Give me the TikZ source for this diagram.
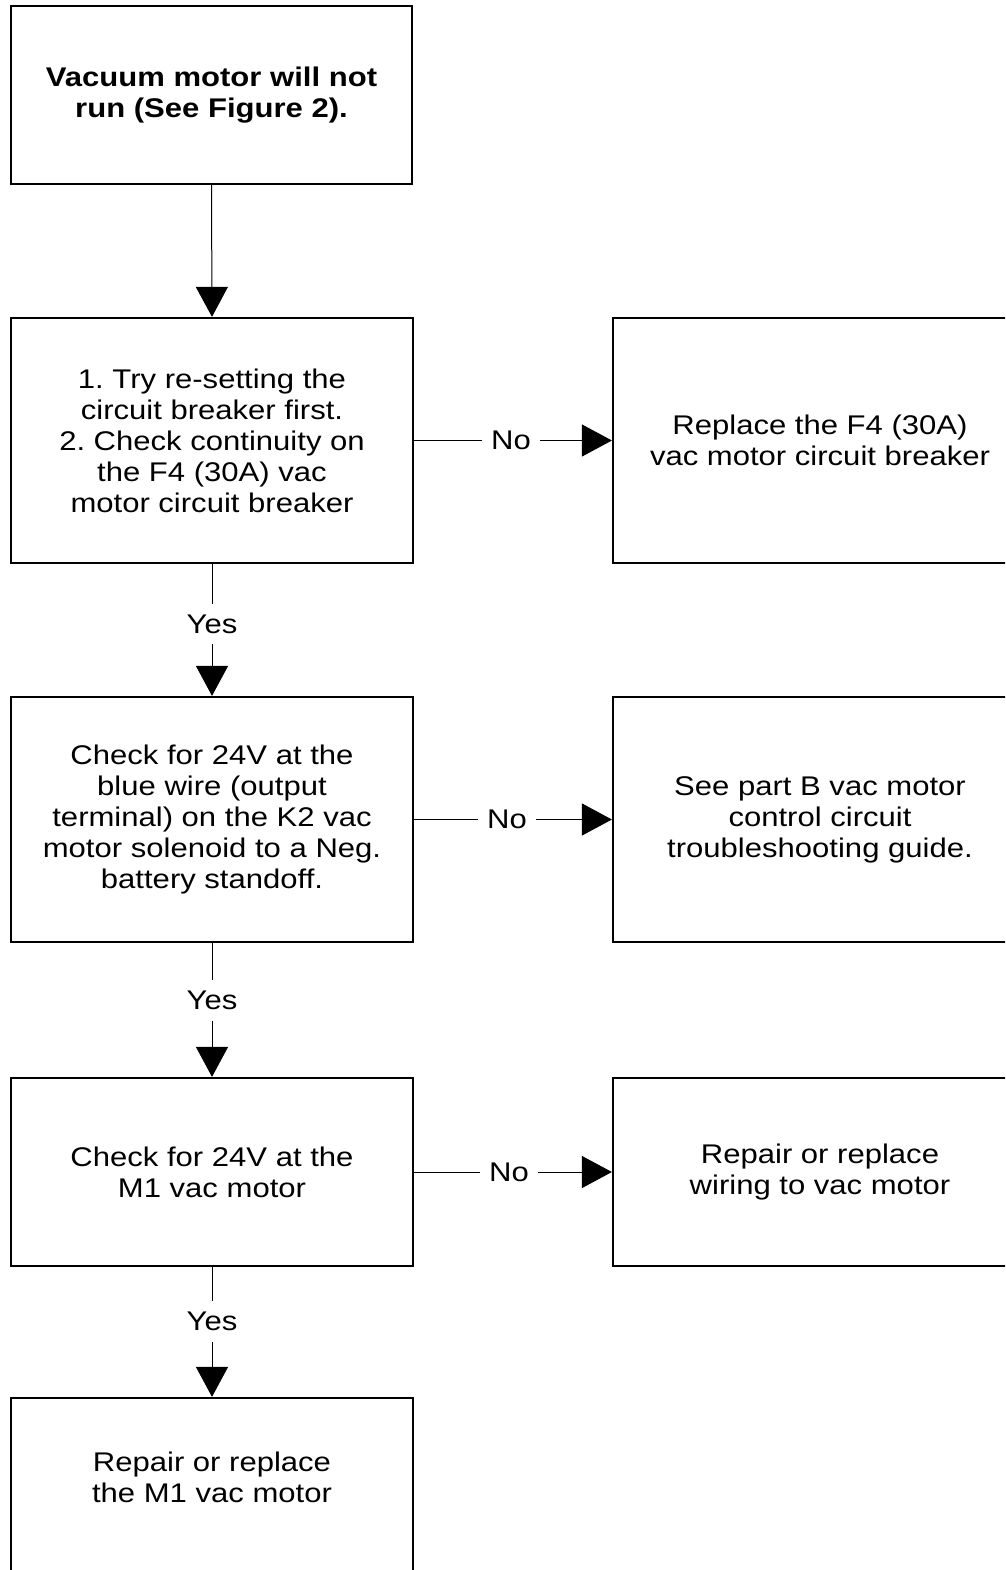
\documentclass[tikz,border=0pt]{standalone}
\usepackage{fontspec}
\setmainfont[FakeStretch=1.15]{Liberation Sans}
\usetikzlibrary{arrows.meta}
\frenchspacing
\begin{document}
\begin{tikzpicture}[x=1pt,y=-1pt,
  box/.style={draw, line width=2.2pt, inner sep=0pt, align=center,
    font=\fontsize{27}{31}\selectfont},
  lbox/.style={box, minimum width=402pt},
  rbox/.style={box, minimum width=414pt},
  conn/.style={line width=1pt, -{Triangle[length=30pt,width=32pt]}},
  lab/.style={fill=white, inner xsep=9pt, inner ysep=11pt, font=\fontsize{27}{31}\selectfont}]
\clip (0,0) rectangle (1005,1570);
\fill[white] (0,0) rectangle (1005,1570);
\node[lbox, minimum width=401pt, minimum height=178pt] (b1) at (211.5,95)
  {\bfseries Vacuum motor will not\\\bfseries run (See Figure 2).};
\node[lbox, minimum height=245pt] (b2) at (212,440.5)
  {1. Try re-setting the\\circuit breaker first.\\2. Check continuity on\\the F4 (30A) vac\\motor circuit breaker};
\node[rbox, minimum height=245pt] (b3) at (820,440.5)
  {Replace the F4 (30A)\\vac motor circuit breaker};
\node[lbox, minimum height=245pt] (b4) at (212,819.5)
  {Check for 24V at the\\blue wire (output\\terminal) on the K2 vac\\motor solenoid to a Neg.\\battery standoff.};
\node[rbox, minimum height=245pt] (b5) at (820,819.5)
  {See part B vac motor\\control circuit\\troubleshooting guide.};
\node[lbox, minimum height=188pt] (b6) at (212,1172)
  {Check for 24V at the\\M1 vac motor};
\node[rbox, minimum height=188pt] (b7) at (820,1172)
  {Repair or replace\\wiring to vac motor};
\node[lbox, minimum height=176pt, text depth=18pt] (b8) at (212,1486)
  {Repair or replace\\the M1 vac motor};
\draw[conn] (b1.south) -- (b2.north);
\draw[conn] (b2.east) -- node[lab, pos=0.49] (n1) {No} (b3.west);
\draw[conn] (b2.south) -- node[lab, pos=0.455] (y1) {Yes} (b4.north);
\draw[conn] (b4.east) -- node[lab, pos=0.47] (n2) {No} (b5.west);
\draw[conn] (b4.south) -- node[lab, pos=0.43] (y2) {Yes} (b6.north);
\draw[conn] (b6.east) -- node[lab, pos=0.48] (n3) {No} (b7.west);
\draw[conn] (b6.south) -- node[lab, pos=0.42] (y3) {Yes} (b8.north);
\end{tikzpicture}
\end{document}
